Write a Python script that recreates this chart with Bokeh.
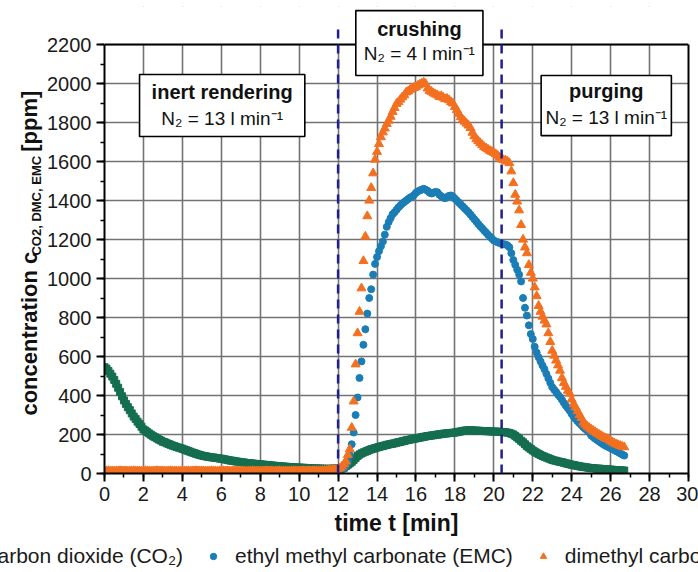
import math
import numpy as np
from bokeh.plotting import figure
from bokeh.layouts import row, column
from bokeh.models import (Range1d, BoxAnnotation, Label, Arrow, Legend, LegendItem, Span,
                          ColumnDataSource, SingleIntervalTicker, FixedTicker, LinearAxis)
from bokeh.embed import file_html
from bokeh.resources import INLINE

# ---------------- data ----------------
time_min = np.round(np.arange(0, 26.75, 0.1), 1)  # sampling every 0.1 min, 0 ... 26.7

co2_ppm = [
    545, 538, 526, 512, 497, 480, 460, 440, 418, 396,
    375, 357, 340, 325, 308, 292, 280, 266, 254, 240,
    226, 220, 212, 205, 198, 191, 186, 180, 174, 169,
    163, 160, 155, 151, 147, 143, 140, 136, 133, 130,
    127, 123, 119, 116, 112, 108, 105, 101, 98, 95,
    92, 90, 88, 86, 84, 83, 82, 80, 79, 77,
    76, 74, 72, 70, 68, 66, 65, 63, 61, 60,
    58, 57, 56, 54, 53, 52, 51, 50, 49, 48,
    47, 46, 45, 44, 43, 42, 41, 40, 39, 38,
    37, 36, 36, 35, 34, 33, 33, 32, 31, 31,
    30, 30, 29, 29, 28, 27, 27, 26, 26, 26,
    25, 25, 25, 24, 24, 24, 24, 25, 25, 25,
    26, 27, 28, 30, 38, 45, 52, 60, 70, 80,
    90, 97, 103, 108, 112, 116, 120, 124, 127, 130,
    133, 136, 139, 141, 144, 147, 149, 151, 153, 155,
    158, 160, 162, 165, 167, 170, 172, 174, 176, 178,
    180, 182, 184, 186, 188, 190, 192, 193, 195, 196,
    198, 199, 201, 202, 204, 205, 206, 207, 208, 209,
    210, 212, 214, 216, 218, 220, 221, 221, 222, 221,
    220, 220, 219, 219, 218, 218, 217, 217, 216, 216,
    215, 215, 214, 214, 213, 212, 211, 210, 208, 204,
    200, 193, 185, 177, 168, 160, 150, 140, 133, 126,
    118, 112, 106, 100, 95, 90, 86, 82, 78, 74,
    70, 67, 65, 62, 60, 58, 55, 52, 50, 47,
    45, 43, 41, 39, 37, 35, 34, 32, 31, 29,
    28, 27, 26, 25, 25, 24, 23, 22, 21, 21,
    20, 19, 18, 18, 17, 16, 16, 15,
]

emc_ppm = [
    8, 8, 9, 8, 8, 7, 8, 8, 9, 8,
    8, 8, 7, 8, 8, 9, 8, 8, 8, 7,
    8, 9, 8, 8, 7, 8, 8, 9, 8, 8,
    8, 7, 8, 8, 9, 8, 8, 8, 7, 8,
    9, 8, 8, 8, 7, 8, 8, 9, 8, 8,
    8, 8, 7, 8, 8, 9, 8, 8, 7, 8,
    8, 9, 8, 8, 8, 7, 8, 8, 9, 8,
    8, 8, 8, 7, 8, 8, 9, 8, 8, 8,
    7, 8, 8, 9, 8, 8, 8, 7, 8, 8,
    9, 8, 8, 8, 7, 8, 8, 9, 8, 8,
    8, 8, 9, 8, 8, 9, 8, 9, 9, 9,
    8, 8, 9, 9, 9, 10, 10, 11, 11, 12,
    13, 15, 18, 25, 38, 60, 95, 150, 210, 300,
    390, 490, 575, 660, 740, 820, 900, 945, 1020, 1075,
    1110, 1140, 1165, 1190, 1225, 1265, 1290, 1310, 1330, 1340,
    1352, 1365, 1375, 1385, 1392, 1400, 1408, 1415, 1420, 1428,
    1440, 1447, 1452, 1456, 1460, 1455, 1450, 1440, 1436, 1440,
    1444, 1442, 1430, 1422, 1415, 1412, 1418, 1424, 1426, 1420,
    1410, 1400, 1390, 1380, 1370, 1360, 1350, 1340, 1328, 1316,
    1304, 1292, 1280, 1268, 1258, 1246, 1236, 1225, 1215, 1205,
    1195, 1190, 1186, 1182, 1178, 1176, 1174, 1170, 1160, 1130,
    1095, 1070, 1045, 1020, 985, 900, 850, 810, 760, 715,
    690, 650, 620, 596, 575, 554, 535, 511, 488, 465,
    443, 430, 418, 404, 392, 378, 362, 348, 335, 322,
    305, 292, 280, 268, 258, 248, 237, 228, 220, 212,
    195, 187, 179, 172, 165, 158, 151, 145, 140, 135,
    130, 125, 119, 114, 109, 103, 97, 92,
]

dmc_ppm = [
    12, 12, 13, 12, 12, 11, 12, 12, 13, 12,
    12, 12, 11, 12, 12, 13, 12, 12, 12, 11,
    12, 13, 12, 12, 11, 12, 12, 13, 12, 12,
    12, 11, 12, 12, 13, 12, 12, 12, 11, 12,
    13, 12, 12, 12, 11, 12, 12, 13, 12, 12,
    12, 12, 11, 12, 12, 13, 12, 12, 11, 12,
    12, 13, 12, 12, 12, 11, 12, 12, 13, 12,
    12, 12, 12, 11, 12, 12, 13, 12, 12, 12,
    11, 12, 12, 13, 12, 12, 12, 11, 12, 12,
    13, 12, 12, 12, 11, 12, 12, 13, 12, 12,
    12, 12, 13, 12, 12, 13, 12, 13, 13, 13,
    13, 13, 14, 14, 15, 16, 17, 18, 19, 20,
    22, 28, 36, 48, 62, 95, 125, 235, 370, 560,
    720, 830, 950, 1090, 1215, 1320, 1400, 1465, 1540, 1610,
    1650, 1690, 1725, 1750, 1770, 1793, 1810, 1830, 1855, 1875,
    1896, 1905, 1918, 1930, 1940, 1955, 1960, 1968, 1975, 1978,
    1982, 1990, 1995, 2000, 2005, 1998, 1975, 1962, 1958, 1950,
    1945, 1940, 1932, 1936, 1928, 1920, 1922, 1915, 1905, 1898,
    1880, 1865, 1845, 1828, 1815, 1805, 1795, 1785, 1772, 1748,
    1730, 1715, 1705, 1695, 1685, 1675, 1668, 1662, 1655, 1650,
    1645, 1638, 1630, 1620, 1612, 1608, 1605, 1600, 1592, 1550,
    1490, 1430, 1395, 1350, 1275, 1200, 1160, 1130, 1070, 1030,
    1000, 955, 910, 860, 830, 805, 785, 765, 720, 675,
    630, 605, 580, 555, 528, 490, 465, 445, 425, 410,
    380, 355, 340, 320, 300, 285, 262, 252, 242, 234,
    226, 220, 213, 206, 200, 194, 188, 182, 178, 174,
    166, 160, 154, 150, 146, 142, 138, 135,
]

series_labels = ["carbon dioxide (CO₂)", "ethyl methyl carbonate (EMC)", "dimethyl carbonate (DMC)"]

phase_bounds = [12.0, 20.4]           # min, dashed separators
phase_titles = ["inert rendering", "crushing", "purging"]
phase_flows = ["N₂ = 13 l min⁻¹", "N₂ = 4 l min⁻¹", "N₂ = 13 l min⁻¹"]

y_label_parts = ["concentration c", "CO2, DMC, EMC", "[ppm]"]
x_label = "time t [min]"

x_limits = (0, 30)
y_limits = (0, 2200)
x_ticks_interval = 2
y_ticks_interval = 200

# ---------------- styling / layout ----------------
FONT = "Liberation Sans"
GREEN = "#166e50"
BLUE = "#1b7db5"
ORANGE = "#f37020"
NAVY = "#1f1f8f"
GRID = "#737373"
INK = "#111111"

LEFT_W = 44          # width of the strip holding the y-axis title
MAIN_W = 698 - LEFT_W
TOP_H = 540
LEG_H = 32
Y_TOP_EXTRA = 2395   # frame reaches a bit above 2200 so the annotations can overhang

src = ColumnDataSource(dict(t=time_min, co2=co2_ppm, emc=emc_ppm, dmc=dmc_ppm))

p = figure(width=MAIN_W, height=TOP_H, x_range=Range1d(*x_limits), y_range=Range1d(0, Y_TOP_EXTRA),
           output_backend="svg", toolbar_location=None,
           min_border_left=60, min_border_right=10, min_border_top=6, min_border_bottom=67)
p.background_fill_color = "white"
p.border_fill_color = "white"
p.outline_line_color = None

p.xaxis.ticker = SingleIntervalTicker(interval=x_ticks_interval, num_minor_ticks=2)
p.yaxis.ticker = SingleIntervalTicker(interval=y_ticks_interval, num_minor_ticks=2)
p.yaxis.bounds = y_limits
for ax in (p.xaxis[0], p.yaxis[0]):
    ax.axis_line_width = 2
    ax.axis_line_color = "black"
    ax.major_tick_line_width = 2
    ax.major_tick_line_color = "black"
    ax.major_tick_out = 8
    ax.major_tick_in = 0
    ax.minor_tick_out = 4
    ax.minor_tick_in = 0
    ax.minor_tick_line_width = 1.5
    ax.minor_tick_line_color = "black"
    ax.major_label_text_font = FONT
    ax.major_label_text_font_size = "20px"
    ax.major_label_text_color = "#1a1a1a"
    ax.major_label_standoff = 5

p.xaxis.axis_label = x_label
p.xaxis.axis_label_text_font = FONT
p.xaxis.axis_label_text_font_size = "23px"
p.xaxis.axis_label_text_font_style = "bold"
p.xaxis.axis_label_text_color = INK
p.xaxis.axis_label_standoff = 6

# right frame edge as a bare axis line
right_ax = LinearAxis(bounds=y_limits, ticker=FixedTicker(ticks=[]), axis_line_width=2,
                      axis_line_color="black", major_tick_out=0, major_tick_in=0,
                      minor_tick_out=0, minor_tick_in=0, major_label_standoff=0,
                      major_label_text_font_size="0px")
p.add_layout(right_ax, "right")

for g in (p.xgrid[0], p.ygrid[0]):
    g.grid_line_color = GRID
    g.grid_line_width = 1.6
    g.grid_line_alpha = 1

r_co2 = p.scatter("t", "co2", source=src, marker="square", size=7, color=GREEN)
r_emc = p.scatter("t", "emc", source=src, marker="circle", size=7, color=BLUE)
r_dmc = p.scatter("t", "dmc", source=src, marker="triangle", size=9, color=ORANGE)

# white area above the 2200 line, then the top frame edge
p.add_layout(BoxAnnotation(bottom=y_limits[1], fill_color="white", fill_alpha=1, line_alpha=0))
p.add_layout(Span(location=y_limits[1], dimension="width", line_color="black", line_width=2))

# dashed phase separators (overhang above the frame)
for xb in phase_bounds:
    p.add_layout(Arrow(end=None, start=None, x_start=xb, y_start=0, x_end=xb, y_end=2290,
                       line_color=NAVY, line_width=2.5, line_dash="9 6"))

# phase boxes (geometry in data units)
box_geom = [  # left, right, bottom, top, title_y, flow_y
    (1.80, 10.29, 1728, 2046, 1959, 1821),
    (12.91, 19.44, 2041, 2374, 2282, 2154),
    (22.43, 29.12, 1733, 2041, 1964, 1826),
]
for (l, r, b, t, ty, fy), title, flow in zip(box_geom, phase_titles, phase_flows):
    p.add_layout(BoxAnnotation(left=l, right=r, bottom=b, top=t, fill_color="white", fill_alpha=1,
                               line_color="black", line_width=1.6, line_alpha=1))
    cx = (l + r) / 2
    p.add_layout(Label(x=cx, y=ty, text=title, text_align="center", text_baseline="middle",
                       text_font=FONT, text_font_size="20px", text_font_style="bold",
                       text_color=INK))
    p.add_layout(Label(x=cx, y=fy, text=flow, text_align="center", text_baseline="middle",
                       text_font=FONT, text_font_size="19px", text_color=INK))

# ---------------- y-axis title strip (pixel coordinates, y up) ----------------
ylab = figure(width=LEFT_W, height=TOP_H, x_range=Range1d(0, LEFT_W), y_range=Range1d(0, TOP_H),
              output_backend="svg", toolbar_location=None, x_axis_location=None,
              y_axis_location=None, min_border=0)
ylab.outline_line_color = None
ylab.grid.visible = False
ylab.background_fill_color = "white"
ylab.border_fill_color = "white"
rot = dict(angle=math.pi / 2, text_align="left", text_baseline="middle", text_font=FONT,
           text_font_style="bold", text_color=INK)
ylab.add_layout(Label(x=28.5, y=TOP_H - 473, text=y_label_parts[0], text_font_size="22px", **rot))
ylab.add_layout(Label(x=35.5, y=TOP_H - 288, text=y_label_parts[1], text_font_size="13px", **rot))
ylab.add_layout(Label(x=28.5, y=TOP_H - 168, text=y_label_parts[2], text_font_size="22px", **rot))

# ---------------- legend strip ----------------
leg = figure(width=698, height=LEG_H, output_backend="svg", toolbar_location=None,
             x_range=Range1d(0, 1), y_range=Range1d(0, 1),
             x_axis_location=None, y_axis_location=None, min_border=0)
leg.outline_line_color = None
leg.grid.visible = False
l_co2 = leg.scatter("t", "co2", source=src, marker="square", size=7, color=GREEN, visible=False)
l_emc = leg.scatter("t", "emc", source=src, marker="circle", size=7, color=BLUE, visible=False)
l_dmc = leg.scatter("t", "dmc", source=src, marker="triangle", size=9, color=ORANGE, visible=False)
legend = Legend(items=[LegendItem(label=series_labels[0], renderers=[l_co2]),
                       LegendItem(label=series_labels[1], renderers=[l_emc]),
                       LegendItem(label=series_labels[2], renderers=[l_dmc])],
                orientation="horizontal", location=(-43, 4),
                glyph_width=16, glyph_height=16, label_standoff=14, spacing=22,
                padding=0, margin=0, border_line_color=None, background_fill_alpha=0,
                inactive_fill_alpha=0,
                label_text_font=FONT, label_text_font_size="21px", label_text_color="#1a1a1a")
leg.add_layout(legend)

layout = column(row(ylab, p), leg)
open("out.html", "w").write(file_html(layout, INLINE))
